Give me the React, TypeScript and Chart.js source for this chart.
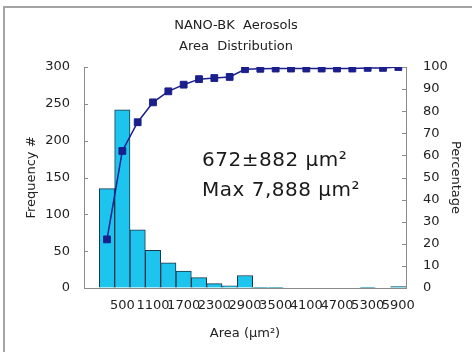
import React, { useEffect, useRef } from "react";
import { Chart, registerables } from "chart.js";

Chart.register(...registerables);

// Bin centres (µm²); the first slot is an empty bin kept by the original chart
const categories = ["", "200", "500", "800", "1100", "1400", "1700", "2000", "2300", "2600", "2900", "3200", "3500", "3800", "4100", "4400", "4700", "5000", "5300", "5600", "5900"];
const frequency = [null, 135, 242, 79, 51, 34, 23, 14, 6, 3, 17, 1, 1, 0, 0, 0, 0, 0, 1, 0, 2];
const cumulativePct = [null, 22, 62, 75, 84, 89, 92, 94.5, 95, 95.5, 99, 99.2, 99.3, 99.3, 99.3, 99.3, 99.3, 99.3, 99.6, 99.6, 100];
const titleLines = ["NANO-BK  Aerosols", "Area  Distribution"];
const noteLines = ["672\u00B1882 \u03BCm\u00B2", "Max 7,888 \u03BCm\u00B2"];
const FONT = "'DejaVu Sans', 'Liberation Sans', sans-serif";

const innerTicksAndText = {
  id: "innerTicksAndText",
  afterDraw(chart: any) {
    const { ctx, chartArea } = chart;
    ctx.save();
    ctx.strokeStyle = "#8a8a8a";
    ctx.lineWidth = 1;
    const y = chart.scales.y;
    y.ticks.forEach((t: any) => {
      const py = Math.round(y.getPixelForValue(t.value)) + 0.5;
      ctx.beginPath();
      ctx.moveTo(chartArea.left, py);
      ctx.lineTo(chartArea.left + 4, py);
      ctx.stroke();
    });
    const y1 = chart.scales.y1;
    y1.ticks.forEach((t: any) => {
      const py = Math.round(y1.getPixelForValue(t.value)) + 0.5;
      ctx.beginPath();
      ctx.moveTo(chartArea.right - 4, py);
      ctx.lineTo(chartArea.right, py);
      ctx.stroke();
    });
    // titles
    ctx.fillStyle = "#222";
    ctx.textAlign = "center";
    ctx.textBaseline = "middle";
    ctx.font = `13px ${FONT}`;
    ctx.fillText(titleLines[0], 236, 26);
    ctx.fillText(titleLines[1], 236, 47);
    // annotation
    ctx.textAlign = "left";
    ctx.textBaseline = "alphabetic";
    ctx.fillStyle = "#1a1a1a";
    ctx.font = `20px ${FONT}`;
    try { (ctx as any).letterSpacing = "0.5px"; } catch (e) {}
    ctx.fillText(noteLines[0], 202, 166);
    ctx.fillText(noteLines[1], 202, 196);
    try { (ctx as any).letterSpacing = "0px"; } catch (e) {}
    ctx.restore();
  },
};

export default function App() {
  const ref = useRef<HTMLCanvasElement | null>(null);
  useEffect(() => {
    if (!ref.current) return;
    const tickFont = { family: FONT, size: 13 };
    const chart = new Chart(ref.current, {
      type: "bar",
      data: {
        labels: categories,
        datasets: [
          {
            type: "line",
            label: "Percentage",
            data: cumulativePct,
            yAxisID: "y1",
            borderColor: "#1b1f8c",
            backgroundColor: "#1b1f8c",
            borderWidth: 1.5,
            pointStyle: "rect",
            pointRadius: 4.8,
            pointBorderWidth: 1,
            pointBackgroundColor: "#1b1f8c",
            pointBorderColor: "#1b1f8c",
            order: 0,
          } as any,
          {
            type: "bar",
            label: "Frequency",
            data: frequency,
            yAxisID: "y",
            backgroundColor: "#1cc4ee",
            borderColor: "#17394a",
            borderWidth: 1,
            barPercentage: 1,
            categoryPercentage: 1,
            order: 1,
          } as any,
        ],
      },
      options: {
        responsive: false,
        animation: false,
        layout: { padding: { top: 67, left: 0, right: 0, bottom: 0 } },
        plugins: { legend: { display: false }, tooltip: { enabled: false }, title: { display: false } },
        scales: {
          x: {
            offset: true,
            grid: { display: false, drawTicks: false },
            border: { display: true, color: "#8a8a8a", width: 1 },
            ticks: {
              autoSkip: false,
              maxRotation: 0,
              minRotation: 0,
              padding: 10,
              color: "#222",
              font: tickFont,
              callback: function (this: any, value: any, index: number) {
                return index > 0 && index % 2 === 0 ? this.getLabelForValue(value) : "";
              },
            },
            title: { display: true, text: "Area (\u03BCm\u00B2)", color: "#222", font: { family: FONT, size: 13 }, padding: { top: 0, bottom: 11 } },
            afterFit: (s: any) => { s.height = 64; },
          },
          y: {
            position: "left",
            min: 0,
            max: 300,
            ticks: { stepSize: 50, padding: 14, color: "#222", font: tickFont },
            grid: { display: true, drawOnChartArea: false, drawTicks: false },
            border: { display: true, color: "#8a8a8a", width: 1 },
            title: { display: true, text: "Frequency #", color: "#222", font: { family: FONT, size: 13 }, padding: { top: 24, bottom: 0 } },
            afterFit: (s: any) => { s.width = 84; },
          },
          y1: {
            position: "right",
            min: 0,
            max: 100,
            ticks: { stepSize: 10, padding: 17, color: "#222", font: tickFont },
            grid: { display: true, drawOnChartArea: false, drawTicks: false },
            border: { display: true, color: "#8a8a8a", width: 1 },
            title: { display: true, text: "Percentage", color: "#222", font: { family: FONT, size: 13 }, padding: { top: 9, bottom: 0 } },
            afterFit: (s: any) => { s.width = 66; },
          },
        },
      },
      plugins: [innerTicksAndText],
    });
    return () => chart.destroy();
  }, []);

  return (
    <div style={{ position: "fixed", left: 0, top: 0, width: 472, height: 352, background: "#fff", overflow: "hidden" }}>
      <div style={{ position: "absolute", left: 3, top: 6, width: 490, height: 370, border: "2px solid #a4a4a4", boxSizing: "border-box" }} />
      <canvas ref={ref} width={472} height={352} style={{ position: "absolute", left: 0, top: 0, width: 472, height: 352 }} />
    </div>
  );
}
